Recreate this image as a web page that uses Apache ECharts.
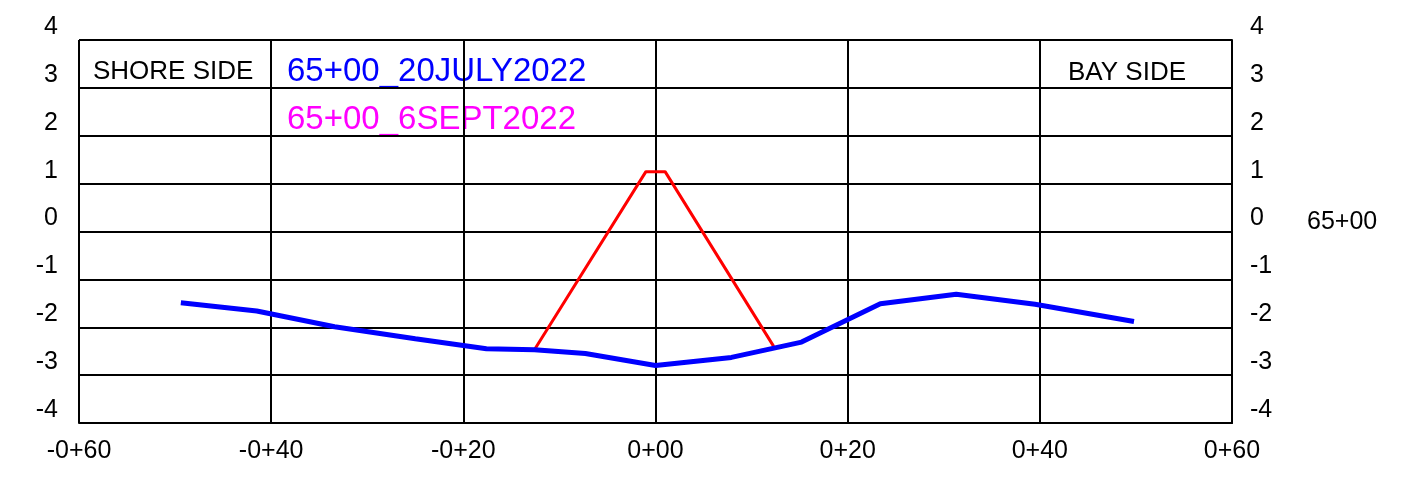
<!DOCTYPE html>
<html>
<head>
<meta charset="utf-8">
<script src="https://cdn.jsdelivr.net/npm/echarts@6/dist/echarts.min.js"></script>
<style>
    html, body { margin: 0; padding: 0; background: #fff; }
    #main { width: 1405px; height: 477px; }
</style>
</head>
<body>
<div id="main"></div>
<script>
let julyOffsets = [-49.4, -41.5, -33.4, -25.0, -17.6, -12.6, -7.3, 0, 7.9, 15.2, 23.4, 31.3, 39.5, 49.8];
let julyElev = [-1.49, -1.66, -1.99, -2.24, -2.45, -2.47, -2.55, -2.80, -2.63, -2.31, -1.51, -1.31, -1.52, -1.88];
let septOffsets = [-12.6, -1.0, 1.0, 12.3];
let septElev = [-2.47, 1.25, 1.25, -2.40];
let yTicks = [-4, -3, -2, -1, 0, 1, 2, 3, 4];

let font = 'Liberation Sans, Arial, sans-serif';

function stationLabel(v) {
    let a = Math.abs(Math.round(v));
    return (v < 0 ? '-' : '') + '0+' + (a < 10 ? '0' + a : a);
}

function pairs(xs, ys) {
    return xs.map(function (x, i) { return [x, ys[i]]; });
}

// labels sit a little above their grid line, as in the drawing
let yAxisCommon = {
    type: 'value',
    min: yTicks[0],
    max: yTicks[yTicks.length - 1],
    interval: 1,
    axisLine: { show: true, lineStyle: { color: '#000', width: 2 } },
    axisTick: { show: false },
    splitLine: { show: true, lineStyle: { color: '#000', width: 2 } },
    axisLabel: {
        color: '#000',
        fontFamily: font,
        fontSize: 25,
        verticalAlign: 'bottom',
        lineHeight: 26
    }
};

let myChart = echarts.init(document.getElementById('main'));
myChart.setOption({
    animation: false,
    backgroundColor: '#fff',
    grid: { left: 79, right: 173, top: 40, bottom: 54 },
    xAxis: {
        type: 'value',
        min: -60,
        max: 60,
        interval: 20,
        axisLine: { show: true, onZero: false, lineStyle: { color: '#000', width: 2 } },
        axisTick: { show: false },
        splitLine: { show: true, lineStyle: { color: '#000', width: 2 } },
        axisLabel: {
            color: '#000',
            fontFamily: font,
            fontSize: 25,
            margin: 16,
            formatter: stationLabel
        }
    },
    yAxis: [
        Object.assign({}, yAxisCommon, { position: 'left', axisLabel: Object.assign({}, yAxisCommon.axisLabel, { margin: 21 }) }),
        Object.assign({}, yAxisCommon, { position: 'right', splitLine: { show: false }, axisLabel: Object.assign({}, yAxisCommon.axisLabel, { margin: 18 }) })
    ],
    series: [
        {
            name: '65+00_20JULY2022',
            type: 'line',
            data: pairs(julyOffsets, julyElev),
            symbol: 'none',
            lineStyle: { color: '#0000ff', width: 5 },
            z: 3
        },
        {
            name: '65+00_6SEPT2022',
            type: 'line',
            data: pairs(septOffsets, septElev),
            symbol: 'none',
            lineStyle: { color: '#ff0000', width: 3 },
            z: 2
        }
    ],
    graphic: [
        { type: 'text', left: 93, top: 59, style: { text: 'SHORE SIDE', fill: '#000', font: '26px ' + font } },
        { type: 'text', left: 1068, top: 60, style: { text: 'BAY SIDE', fill: '#000', font: '26px ' + font } },
        { type: 'text', left: 287, top: 55, style: { text: '65+00_20JULY2022', fill: '#0000ff', font: '33px ' + font } },
        { type: 'text', left: 287, top: 103, style: { text: '65+00_6SEPT2022', fill: '#ff00ff', font: '33px ' + font } },
        { type: 'text', left: 1307, top: 210, style: { text: '65+00', fill: '#000', font: '25px ' + font } }
    ]
});
</script>
</body>
</html>
